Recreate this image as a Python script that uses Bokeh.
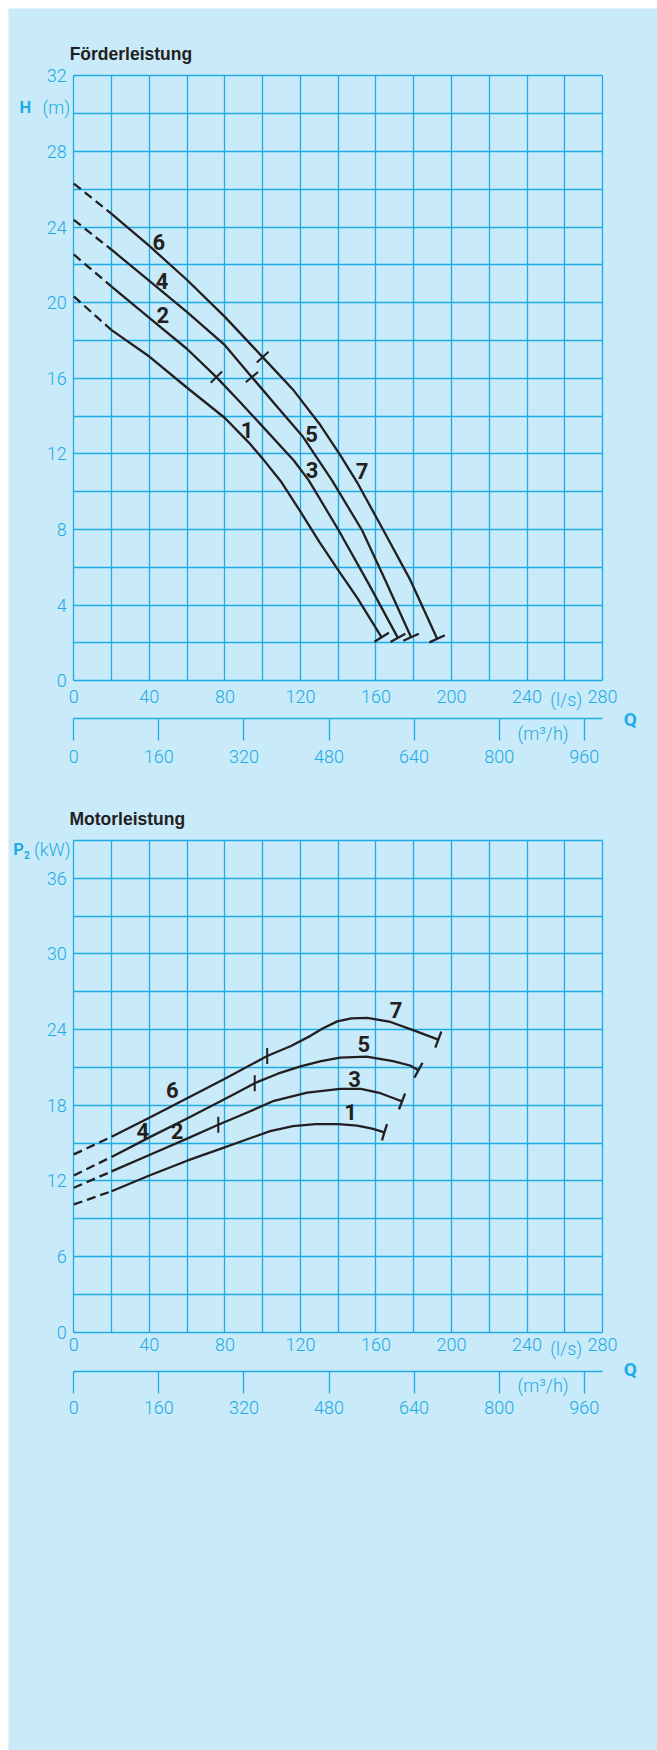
import math
from bokeh.plotting import figure
from bokeh.models import Range1d, LinearAxis, FixedTicker, ColumnDataSource, Grid
from bokeh.embed import file_html
from bokeh.resources import INLINE
from bokeh.core.properties import value

# ---------------- data: Förderleistung (H in m over Q in l/s) ----------------
q_head_1 = [0, 20, 40, 60, 80, 92.7, 100, 110, 120, 130, 140, 150, 163]
h_head_1 = [20.33, 18.55, 17.15, 15.5, 13.9, 12.6, 11.75, 10.5, 8.95, 7.35, 5.85, 4.4, 2.3]

q_head_23 = [0, 20, 40, 60, 75.5, 87, 98.7, 116.5, 124.5, 140.3, 156, 171.6]
h_head_23 = [22.55, 20.85, 19.2, 17.55, 16.06, 14.85, 13.59, 11.65, 10.59, 7.95, 5.15, 2.27]

q_head_45 = [0, 20, 40, 60, 80, 94.3, 108, 121, 136.8, 152.7, 165, 178.6]
h_head_45 = [24.38, 22.8, 21.15, 19.5, 17.75, 16.06, 14.45, 12.95, 10.59, 7.95, 5.31, 2.3]

q_head_67 = [0, 20, 40, 60, 80, 100, 116.5, 130, 141, 150, 164, 178.3, 192.4]
h_head_67 = [26.3, 24.7, 23.0, 21.2, 19.25, 17.12, 15.35, 13.6, 11.95, 10.5, 7.95, 5.31, 2.22]

head_switch_idx = [4, 5, 5]          # impeller change marks on curves 2/3, 4/5, 6/7

head_label_text = ["6", "4", "2", "1", "5", "3", "7"]
head_label_q = [45.0, 46.8, 47.1, 91.8, 125.9, 126.2, 152.7]
head_label_h = [23.2, 21.17, 19.37, 13.24, 13.03, 11.16, 11.09]

# ---------------- data: Motorleistung (P2 in kW over Q in l/s) ----------------
q_pow_1 = [0, 20, 40, 60, 75, 90, 104, 116, 128, 140, 150, 158, 164.5]
p_pow_1 = [10.13, 11.18, 12.43, 13.6, 14.4, 15.2, 15.95, 16.35, 16.5, 16.5, 16.38, 16.15, 15.85]

q_pow_23 = [0, 20, 40, 60, 76.5, 90, 106, 123.6, 141, 152, 162.4, 169.4, 173.8]
p_pow_23 = [11.45, 12.75, 14.05, 15.35, 16.45, 17.3, 18.35, 19.0, 19.3, 19.3, 18.95, 18.55, 18.3]

q_pow_45 = [0, 20, 40, 60, 80, 95.8, 108, 120.5, 131, 141, 155, 169, 178, 182.5]
p_pow_45 = [12.43, 13.9, 15.45, 16.95, 18.5, 19.75, 20.5, 21.1, 21.5, 21.78, 21.85, 21.5, 21.15, 20.78]

q_pow_67 = [0, 20, 40, 60, 80, 102.4, 115, 125.3, 132, 139.5, 147, 155.4, 167.7, 180, 193]
p_pow_67 = [14.1, 15.5, 17.0, 18.55, 20.1, 21.9, 22.7, 23.5, 24.1, 24.65, 24.88, 24.93, 24.6, 23.93, 23.2]

pow_switch_idx = [4, 5, 5]

pow_label_text = ["6", "4", "2", "7", "5", "3", "1"]
pow_label_q = [52.1, 36.5, 54.7, 170.7, 153.6, 148.6, 146.5]
pow_label_p = [19.17, 15.99, 15.94, 25.59, 22.87, 20.1, 17.45]

# ---------------- axes / ticks ----------------
q_ticks = [0, 40, 80, 120, 160, 200, 240, 280]
q_grid = list(range(0, 281, 20))
m3h_ticks = [0, 160, 320, 480, 640, 800, 960]
h_ticks = [0, 4, 8, 12, 16, 20, 24, 28, 32]
h_grid = list(range(0, 33, 2))
p_ticks = [0, 6, 12, 18, 24, 30, 36]
p_grid = list(range(0, 40, 3))

Q_MAX, H_MAX, P_MAX = 280, 32, 39

BG = "#c8eaf9"
CYAN = "#1eabe6"
INK = "#231f20"
LIGHT = "Roboto Light"
BOLD = "Roboto"
TITLE_FONT = "Liberation Sans"

# ---------------- canvas geometry (pixels) ----------------
FIG_W, FIG_H = 649, 1742
LEFT_PX = 65.3           # Q = 0 from the left edge of the canvas
PLOT_W_PX = 528.8        # Q = 0 .. 280
M3H_960_PX = 510.4       # 0 .. 960 m3/h on the secondary scale
H_TOP_PX, H_PLOT_PX = 67.3, 605.0     # chart 1: H = 32 at 67.3 px, 32 m = 605 px
P_TOP_PX, P_PLOT_PX = 831.9, 491.8    # chart 2: P = 39 at 831.9 px, 39 kW = 491.8 px

qpp = Q_MAX / PLOT_W_PX
x_start = -LEFT_PX * qpp
x_end = x_start + FIG_W * qpp
m3pp = 960.0 / M3H_960_PX
m3_start = -LEFT_PX * m3pp
m3_end = m3_start + FIG_W * m3pp
m3_axis_end = PLOT_W_PX * m3pp


def v_range(vmax, top_px, plot_px):
    vpp = vmax / plot_px
    end = vmax + top_px * vpp
    return Range1d(end - FIG_H * vpp, end)


p = figure(width=FIG_W, height=FIG_H,
           x_range=Range1d(x_start, x_end), y_range=v_range(H_MAX, H_TOP_PX, H_PLOT_PX),
           x_axis_type=None, y_axis_type=None,
           output_backend="svg", toolbar_location=None, min_border=0,
           background_fill_color=BG, border_fill_color=BG, outline_line_color=None)
p.margin = (8, 0, 0, 8)
p.extra_x_ranges = {"m3h": Range1d(m3_start, m3_end)}
p.extra_y_ranges = {"pow": v_range(P_MAX, P_TOP_PX, P_PLOT_PX)}


def add_grid(dim, ticks, bounds, cross, yname):
    if "cross_bounds" in Grid.properties():
        g = Grid(dimension=dim, ticker=FixedTicker(ticks=ticks), bounds=bounds,
                 cross_bounds=cross, y_range_name=yname,
                 grid_line_color=CYAN, grid_line_width=1.3)
        p.add_layout(g)
    else:
        n = len(ticks)
        if dim == 0:
            p.segment(x0=ticks, y0=[cross[0]] * n, x1=ticks, y1=[cross[1]] * n,
                      line_color=CYAN, line_width=1.3, level="underlay", y_range_name=yname)
        else:
            p.segment(x0=[cross[0]] * n, y0=ticks, x1=[cross[1]] * n, y1=ticks,
                      line_color=CYAN, line_width=1.3, level="underlay", y_range_name=yname)


def plain_axis(**kw):
    return LinearAxis(axis_line_color=None, major_tick_line_color=None,
                      major_tick_out=0, major_tick_in=0,
                      minor_tick_line_color=None, minor_tick_out=0, minor_tick_in=0,
                      major_label_text_color=CYAN, major_label_text_font=LIGHT,
                      major_label_text_font_size="18px", **kw)


def add_axes(yname, vmax, vticks, vgrid, x_standoff, m3_loc, m3_standoff):
    add_grid(0, q_grid, (0, Q_MAX), (0, vmax), yname)
    add_grid(1, vgrid, (0, vmax), (0, Q_MAX), yname)
    p.add_layout(plain_axis(y_range_name=yname, fixed_location=0,
                            ticker=FixedTicker(ticks=vticks), bounds=(0, vmax),
                            major_label_standoff=7), "left")
    p.add_layout(plain_axis(y_range_name=yname, fixed_location=0,
                            ticker=FixedTicker(ticks=q_ticks), bounds=(0, Q_MAX),
                            major_label_standoff=x_standoff), "below")
    ax2 = LinearAxis(x_range_name="m3h", y_range_name=yname, fixed_location=m3_loc,
                     ticker=FixedTicker(ticks=m3h_ticks), bounds=(0, m3_axis_end),
                     axis_line_color=CYAN, axis_line_width=1.3,
                     major_tick_line_color=CYAN, major_tick_line_width=1.3,
                     major_tick_out=22, major_tick_in=0,
                     minor_tick_line_color=None, minor_tick_out=0, minor_tick_in=0,
                     major_label_standoff=m3_standoff, major_label_text_color=CYAN,
                     major_label_text_font=LIGHT, major_label_text_font_size="18px")
    p.add_layout(ax2, "below")


def draw_curves(yname, curves, switch_idx, sy, vertical_switch):
    sx = PLOT_W_PX / Q_MAX
    for (qs, vs) in curves:
        p.line(qs[:2], vs[:2], line_color=INK, line_width=2.3, line_dash="9 5",
               y_range_name=yname)
        p.line(qs[1:], vs[1:], line_color=INK, line_width=2.3, line_join="round",
               y_range_name=yname)
    ex, ey, ea = [], [], []
    for (qs, vs) in curves:
        d = math.atan2((vs[-1] - vs[-2]) * sy, (qs[-1] - qs[-2]) * sx)
        ex.append(qs[-1]); ey.append(vs[-1]); ea.append(d + math.pi / 2)
    p.scatter(ex, ey, marker="dash", size=17, angle=ea, line_color=INK, line_width=2.3,
              y_range_name=yname)
    tx, ty, ta = [], [], []
    for (qs, vs), i in zip(curves[1:], switch_idx):
        d = math.atan2((vs[i + 1] - vs[i - 1]) * sy, (qs[i + 1] - qs[i - 1]) * sx)
        tx.append(qs[i]); ty.append(vs[i])
        ta.append(math.pi / 2 if vertical_switch else d + math.pi / 2)
    p.scatter(tx, ty, marker="dash", size=16, angle=ta, line_color=INK, line_width=2.0,
              y_range_name=yname)


def texts(yname, xs, ys, ts, size, font, style="normal", color=CYAN, align="left"):
    src = ColumnDataSource(dict(x=xs, y=ys, t=ts))
    p.text(x="x", y="y", text="t", source=src, text_align=align, text_baseline="middle",
           text_font=value(font), text_font_style=style, text_font_size=size,
           text_color=color, y_range_name=yname)


# ---------------- chart 1: Förderleistung ----------------
add_axes("default", H_MAX, h_ticks, h_grid, 9, -2.01, 9)
draw_curves("default", [(q_head_1, h_head_1), (q_head_23, h_head_23),
                        (q_head_45, h_head_45), (q_head_67, h_head_67)],
            head_switch_idx, H_PLOT_PX / H_MAX, False)
texts("default", head_label_q, head_label_h, head_label_text, "22px", BOLD, "bold", INK, "center")
texts("default", [-2.2], [33.13], ["Förderleistung"], "17.5px", TITLE_FONT, "bold", INK)
texts("default", [-28.8], [30.31], ["H"], "16.5px", BOLD, "bold")
texts("default", [-16.6], [30.31], ["(m)"], "18px", LIGHT)
texts("default", [260.7, 248.5], [-1.0, -2.77], ["(l/s)", "(m³/h)"], "18px", LIGHT, align="center")
texts("default", [294.7], [-2.05], ["Q"], "19px", BOLD, "bold", align="center")

# ---------------- chart 2: Motorleistung ----------------
add_axes("pow", P_MAX, p_ticks, p_grid, 6, -3.09, 8)
draw_curves("pow", [(q_pow_1, p_pow_1), (q_pow_23, p_pow_23),
                    (q_pow_45, p_pow_45), (q_pow_67, p_pow_67)],
            pow_switch_idx, P_PLOT_PX / P_MAX, True)
texts("pow", pow_label_q, pow_label_p, pow_label_text, "22px", BOLD, "bold", INK, "center")
texts("pow", [-2.3], [40.71], ["Motorleistung"], "17.5px", TITLE_FONT, "bold", INK)
texts("pow", [-32.1], [38.25], ["P"], "16.5px", BOLD, "bold")
texts("pow", [-26.4], [37.85], ["2"], "10px", BOLD, "bold")
texts("pow", [-21.1], [38.25], ["(kW)"], "18px", LIGHT)
texts("pow", [260.7, 248.5], [-1.32, -4.23], ["(l/s)", "(m³/h)"], "18px", LIGHT, align="center")
texts("pow", [294.7], [-2.96], ["Q"], "19px", BOLD, "bold", align="center")

open("out.html", "w").write(file_html(p, INLINE))
